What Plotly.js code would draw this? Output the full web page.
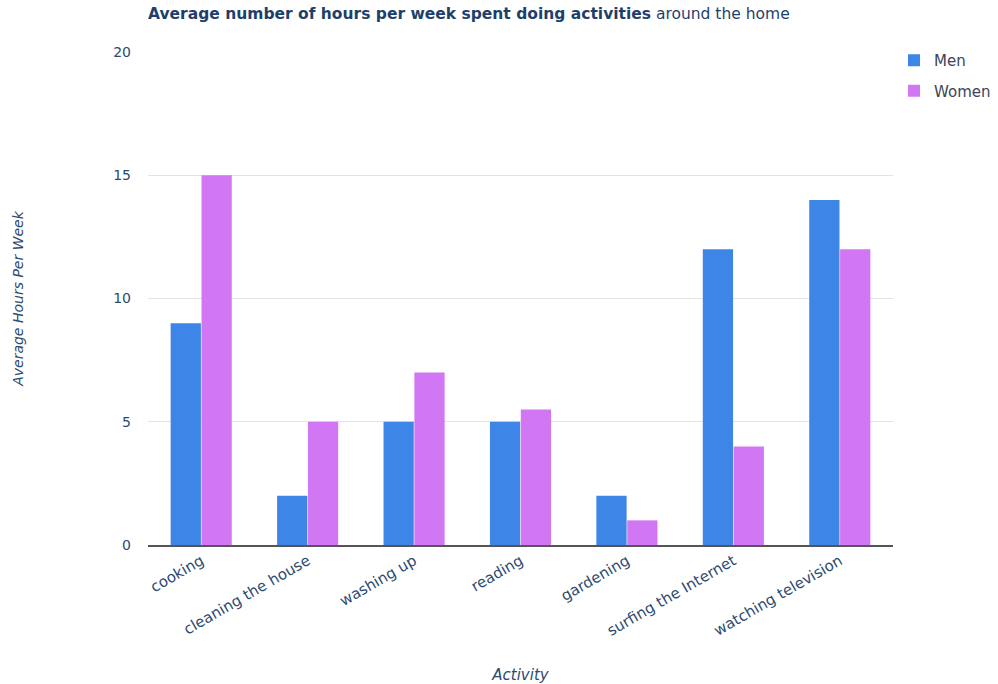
<!DOCTYPE html>
<html>
<head>
<meta charset="utf-8">
<script src="https://cdn.plot.ly/plotly-3.0.1.min.js"></script>
<style>html,body{margin:0;padding:0;background:#fff;}#chart{width:998px;height:684px;}</style>
</head>
<body>
<div id="chart"></div>
<script>
const categories = ["cooking", "cleaning the house", "washing up", "reading", "gardening", "surfing the Internet", "watching television"];
const menHours = [9, 2, 5, 5, 2, 12, 14];
const womenHours = [15, 5, 7, 5.5, 1, 4, 12];
const yTicks = [0, 5, 10, 15, 20];

const textColor = "#2d4a70";
const font = "DejaVu Sans, Arial, sans-serif";

const data = [
  {type: "bar", name: "Men", legendgroup: "men", x: categories, y: menHours, marker: {color: "#3d86e8"}},
  {type: "bar", name: "Women", legendgroup: "women", x: categories, y: womenHours, marker: {color: "#d277f4"}}
];

const layout = {
  width: 998, height: 684,
  margin: {l: 148, r: 105, t: 52, b: 139},
  paper_bgcolor: "#fff", plot_bgcolor: "#fff",
  font: {family: font, color: textColor, size: 14},
  title: {
    text: "<b>Average number of hours per week spent doing activities</b> around the home",
    x: 148/998, xref: "container", xanchor: "left",
    y: 1 - 14/684, yref: "container", yanchor: "middle",
    font: {size: 15.5, color: "#1f3f6b", family: font}
  },
  barmode: "group", bargap: 0.42, bargroupgap: 0.02,
  showlegend: true,
  legend: {xref: "container", yref: "container", x: 894/998, xanchor: "left", y: 1 - 44/684, yanchor: "top",
           font: {size: 15, color: "#3a4358"}, itemwidth: 30, tracegroupgap: 8},
  xaxis: {
    tickangle: -30, tickfont: {size: 15, color: textColor},
    showline: true, linecolor: "#555", linewidth: 1.5, showgrid: false, ticks: "",
    title: {text: "<i>Activity</i>", font: {size: 15, color: textColor}, standoff: 34},
    fixedrange: true
  },
  yaxis: {
    range: [0, 20], tickvals: yTicks, ticktext: yTicks.map(String),
    gridcolor: "#e3e3e3", gridwidth: 1, zeroline: false,
    tickfont: {size: 14, color: textColor}, ticklabelstandoff: 16,
    title: {text: "<i>Average Hours Per Week</i>", font: {size: 14, color: textColor}, standoff: 86},
    fixedrange: true
  }
};

Plotly.newPlot("chart", data, layout, {displayModeBar: false, staticPlot: true});
</script>
</body>
</html>
